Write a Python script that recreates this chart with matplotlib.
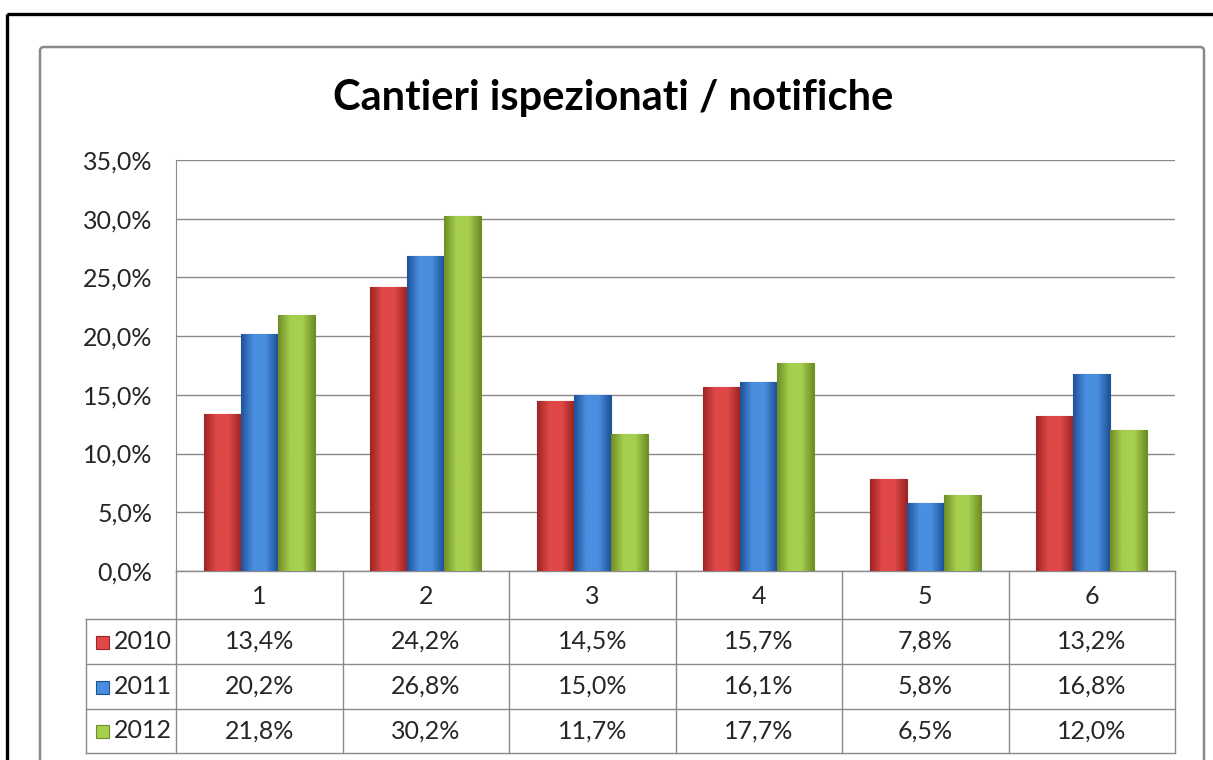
import numpy as np
import matplotlib.pyplot as plt
from matplotlib.patches import Rectangle, FancyBboxPatch
from matplotlib.colors import LinearSegmentedColormap

# --- dati ---
categorie = ["1", "2", "3", "4", "5", "6"]
anni = ["2010", "2011", "2012"]
val_2010 = [13.4, 24.2, 14.5, 15.7, 7.8, 13.2]
val_2011 = [20.2, 26.8, 15.0, 16.1, 5.8, 16.8]
val_2012 = [21.8, 30.2, 11.7, 17.7, 6.5, 12.0]
titolo = "Cantieri ispezionati / notifiche"

# colori (scuro, chiaro) per l'effetto rilievo
colori = [("#9E2424", "#E04848"), ("#1F5299", "#4A8EE0"), ("#6E8E26", "#A6CF4E")]

plt.rcParams["font.family"] = ["Lato", "DejaVu Sans"]
W, H = 1213, 760
fig = plt.figure(figsize=(W / 100, H / 100), dpi=100)

# layout in pixel
PX_L, PX_R, PX_T, PX_B = 176, 1175, 160, 571
ROWS = [571, 619, 664, 709, 753]
LEG_X = 86
GRIGIO = "#8A8A8A"
TESTO = "#262626"
FS = 18


def pct(v):
    return ("%.1f%%" % v).replace(".", ",")


# --- cornici e titolo (asse di sfondo in pixel) ---
bg = fig.add_axes([0, 0, 1, 1])
bg.set_xlim(0, W)
bg.set_ylim(H, 0)
bg.axis("off")
bg.add_patch(Rectangle((7, 14), W + 20, H + 20, fill=False, ec="black", lw=2.4))
bg.add_patch(FancyBboxPatch((40, 47), 1164, H + 20, boxstyle="round,pad=0,rounding_size=4",
                            fill=False, ec=GRIGIO, lw=1.8))
bg.text(W / 2 + 7, 110, titolo, ha="center", va="baseline", fontsize=30, fontweight="bold")

ax = fig.add_axes([PX_L / W, 1 - PX_B / H, (PX_R - PX_L) / W, (PX_B - PX_T) / H])
ax.set_facecolor("none")

x = np.arange(len(categorie))
w = 1 / 4.5
serie = [val_2010, val_2011, val_2012]
for i, vals in enumerate(serie):
    scuro, chiaro = colori[i]
    cmap = LinearSegmentedColormap.from_list("c%d" % i, [scuro, chiaro, chiaro, scuro])
    bars = ax.bar(x + (i - 1) * w, vals, width=w, color=chiaro, edgecolor=scuro, lw=0.8, zorder=3)
    grad = np.linspace(0, 1, 64).reshape(1, -1)
    for b in bars:
        im = ax.imshow(grad, cmap=cmap, aspect="auto", zorder=3.5,
                       extent=[b.get_x(), b.get_x() + b.get_width(), 0, b.get_height()])
        im.set_clip_path(b)

ax.set_xlim(-0.5, len(categorie) - 0.5)
ax.set_ylim(0, 35)
ticks = np.arange(0, 36, 5)
ax.set_yticks(ticks)
ax.set_yticklabels([pct(v) for v in ticks])
ax.yaxis.set_tick_params(labelsize=FS, length=0, pad=17, colors=TESTO)
ax.set_xticks([])
ax.grid(axis="y", color=GRIGIO, lw=1.0, zorder=0)
for s in ["top", "right", "bottom"]:
    ax.spines[s].set_visible(False)
ax.spines["left"].set_color(GRIGIO)

# --- tabella dati ---
col_w = (PX_R - PX_L) / len(categorie)
bg.plot([PX_L, PX_R], [ROWS[0], ROWS[0]], color=GRIGIO, lw=1.0)
for r in ROWS[1:]:
    bg.plot([LEG_X, PX_R], [r, r], color=GRIGIO, lw=1.0)
bg.plot([LEG_X, LEG_X], [ROWS[1], ROWS[-1]], color=GRIGIO, lw=1.0)
for j in range(len(categorie) + 1):
    xx = PX_L + j * col_w
    bg.plot([xx, xx], [ROWS[0], ROWS[-1]], color=GRIGIO, lw=1.0)

for j, c in enumerate(categorie):
    cx = PX_L + (j + 0.5) * col_w
    bg.text(cx, (ROWS[0] + ROWS[1]) / 2 + 1, c, ha="center", va="center", fontsize=FS, color=TESTO)
    for i, vals in enumerate(serie):
        cy = (ROWS[i + 1] + ROWS[i + 2]) / 2
        bg.text(cx, cy, pct(vals[j]), ha="center", va="center", fontsize=FS, color=TESTO)

for i, anno in enumerate(anni):
    cy = (ROWS[i + 1] + ROWS[i + 2]) / 2
    scuro, chiaro = colori[i]
    bg.add_patch(Rectangle((96, cy - 6), 13, 13, fc=chiaro, ec=scuro, lw=0.8))
    bg.text(114, cy, anno, ha="left", va="center", fontsize=FS, color=TESTO)

fig.savefig("out.png", dpi=100)
